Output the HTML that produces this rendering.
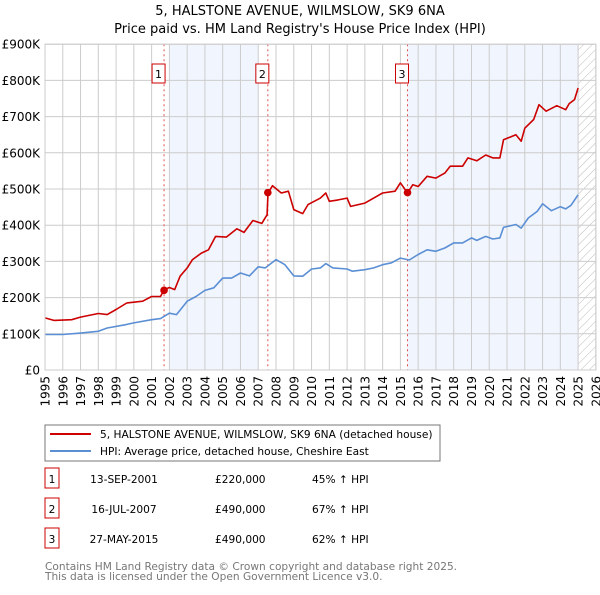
<!DOCTYPE html>
<html><head><meta charset="utf-8"><style>
body{margin:0;background:#fff;font-family:"Liberation Sans","DejaVu Sans",sans-serif;}
svg text{font-family:"DejaVu Sans","Liberation Sans",sans-serif;}
</style></head><body>
<svg id="c" width="600" height="590" xmlns="http://www.w3.org/2000/svg">
<defs><pattern id="hatch" width="6" height="6" patternUnits="userSpaceOnUse" patternTransform="rotate(45)"><line x1="0" y1="0" x2="0" y2="6" stroke="#bbb" stroke-width="1"/></pattern></defs>
<text x="300" y="15" text-anchor="middle" font-size="13">5, HALSTONE AVENUE, WILMSLOW, SK9 6NA</text>
<text x="300" y="33" text-anchor="middle" font-size="13">Price paid vs. HM Land Registry's House Price Index (HPI)</text>
<g id="plot"></g>
<rect x="45" y="425" width="395" height="36" fill="#fff" stroke="#777"/>
<line x1="50" y1="434" x2="91" y2="434" stroke="#cc0000" stroke-width="2"/>
<text x="100" y="438" font-size="10.6">5, HALSTONE AVENUE, WILMSLOW, SK9 6NA (detached house)</text>
<line x1="50" y1="451" x2="91" y2="451" stroke="#5b8fd4" stroke-width="2"/>
<text x="100" y="455" font-size="10.6">HPI: Average price, detached house, Cheshire East</text>
<g id="tbl" font-size="10.6"></g>
<text x="45" y="570" font-size="10.6" fill="#777">Contains HM Land Registry data © Crown copyright and database right 2025.</text>
<text x="45" y="580" font-size="10.6" fill="#777">This data is licensed under the Open Government Licence v3.0.</text>
</svg>
<script>
const yTicks=[0,100,200,300,400,500,600,700,800,900];
const yTickLabels=["£0","£100K","£200K","£300K","£400K","£500K","£600K","£700K","£800K","£900K"];
const xYears=[1995,1996,1997,1998,1999,2000,2001,2002,2003,2004,2005,2006,2007,2008,2009,2010,2011,2012,2013,2014,2015,2016,2017,2018,2019,2020,2021,2022,2023,2024,2025,2026];
const redT=[1995,1995.5,1996.5,1997,1998,1998.5,1999,1999.6,2000.5,2001,2001.5,2001.7,2002,2002.3,2002.6,2003,2003.3,2003.8,2004.2,2004.6,2005.2,2005.8,2006.2,2006.7,2007.2,2007.5,2007.55,2007.8,2008.3,2008.7,2009,2009.5,2009.8,2010.5,2010.8,2011,2011.5,2012,2012.2,2013,2013.5,2014,2014.7,2015,2015.4,2015.7,2016,2016.5,2017,2017.5,2017.8,2018.5,2018.8,2019.3,2019.8,2020.2,2020.6,2020.8,2021.5,2021.8,2022,2022.5,2022.8,2023.2,2023.8,2024.3,2024.5,2024.8,2025];
const redV=[144,137,139,146,156,153,167,185,190,203,203,222,228,222,259,282,305,323,332,369,367,390,380,413,405,429,489,509,489,494,443,432,457,475,489,466,470,475,452,461,475,489,494,517,489,512,507,535,530,544,563,563,586,578,594,586,586,636,650,632,668,692,733,715,730,719,736,747,779];
const blueT=[1995,1996,1997,1998,1998.5,1999.5,2000,2001,2001.5,2002,2002.4,2003,2003.5,2004,2004.5,2005,2005.5,2006,2006.5,2007,2007.4,2008,2008.5,2009,2009.5,2010,2010.5,2010.8,2011.2,2012,2012.3,2013,2013.5,2014,2014.5,2015,2015.5,2016,2016.5,2017,2017.5,2018,2018.5,2019,2019.3,2019.8,2020.2,2020.6,2020.8,2021.5,2021.8,2022.2,2022.7,2023,2023.5,2024,2024.3,2024.6,2025];
const blueV=[98,98,102,107,116,125,130,139,142,157,153,190,203,220,227,254,254,268,260,285,282,305,291,260,259,279,282,294,282,279,273,277,282,291,296,309,304,319,332,328,337,351,351,365,358,369,362,365,394,402,392,420,438,459,440,451,445,455,484];
const saleLabels=["1","2","3"];
const saleT=[2001.7,2007.54,2015.4];
const saleV=[220,490,490];
const saleDates=["13-SEP-2001","16-JUL-2007","27-MAY-2015"];
const salePrices=["£220,000","£490,000","£490,000"];
const saleHpi=["45% ↑ HPI","67% ↑ HPI","62% ↑ HPI"];
const NS="http://www.w3.org/2000/svg";
const X=t=>45+(t-1995)*17.77;
const Y=v=>370-v*0.362;
const g=document.getElementById('plot');
function mk(tag,attrs,parent){const e=document.createElementNS(NS,tag);for(const k in attrs)e.setAttribute(k,attrs[k]);(parent||g).appendChild(e);return e;}
let e;
e=mk('rect',{x:X(1995),y:Y(900),width:X(2026)-X(1995),height:Y(0)-Y(900),fill:'#fff'});
e=mk('rect',{x:X(2002),y:Y(900),width:X(2007)-X(2002),height:Y(0)-Y(900),fill:'#eef3fc',opacity:0.8});


e=mk('rect',{x:X(2015.4),y:Y(900),width:X(2025)-X(2015.4),height:Y(0)-Y(900),fill:'#eef3fc',opacity:0.8});


e=mk('rect',{x:X(2025),y:Y(900),width:X(2026)-X(2025),height:Y(0)-Y(900),fill:'url(#hatch)'});


yTicks.forEach((v,i)=>{
 mk('line',{x1:X(1995),x2:X(2026),y1:Y(v),y2:Y(v),stroke:'#ccc'});
 e=mk('text',{x:40,y:Y(v)+4.5,'text-anchor':'end','font-size':12});
 e.textContent=yTickLabels[i];
 
 
});
xYears.forEach(t=>{
 mk('line',{x1:X(t),x2:X(t),y1:Y(900),y2:Y(0),stroke:'#ccc'});
 e=mk('text',{transform:`translate(${X(t)+4.5},376) rotate(-90)`,'text-anchor':'end','font-size':12});
 e.textContent=t;
 
 
});
saleT.forEach((t,i)=>{
 e=mk('line',{x1:X(t),x2:X(t),y1:Y(900),y2:Y(0),stroke:'#e05050','stroke-dasharray':'2,3'});
 
 
 e=mk('rect',{x:X(t)-12,y:64,width:13,height:19,fill:'#fff',stroke:'#cc0000'});
 
 
 e=mk('text',{x:X(t)-5.5,y:78,'text-anchor':'middle','font-size':11});
 e.textContent=saleLabels[i];
});
function line(T,V,color,name){
 e=mk('polyline',{points:T.map((t,i)=>X(t).toFixed(1)+','+Y(V[i]).toFixed(1)).join(' '),fill:'none',stroke:color,'stroke-width':1.6,'stroke-linejoin':'round'});
 
 
}
line(blueT,blueV,'#5b8fd4','hpi-line');
line(redT,redV,'#cc0000','price-paid-line');
saleT.forEach((t,i)=>{
 e=mk('circle',{cx:X(t),cy:Y(saleV[i]),r:3.8,fill:'#cc0000'});
 
 
});
mk('rect',{x:X(1995),y:Y(900),width:X(2026)-X(1995),height:Y(0)-Y(900),fill:'none',stroke:'#ccc'});
const tb=document.getElementById('tbl');
saleLabels.forEach((l,i)=>{
 const y=483+i*30;
 e=mk('rect',{x:45,y:y-15,width:14,height:20,fill:'#fff',stroke:'#cc0000'},tb);
 
 
 e=mk('text',{x:52,y:y,'text-anchor':'middle'},tb);e.textContent=l;
 e=mk('text',{x:124,y:y,'text-anchor':'middle'},tb);e.textContent=saleDates[i];
 
 
 e=mk('text',{x:215,y:y},tb);e.textContent=salePrices[i];
 
 
 e=mk('text',{x:312,y:y},tb);e.textContent=saleHpi[i];
 
 
});
</script>
</body></html>
